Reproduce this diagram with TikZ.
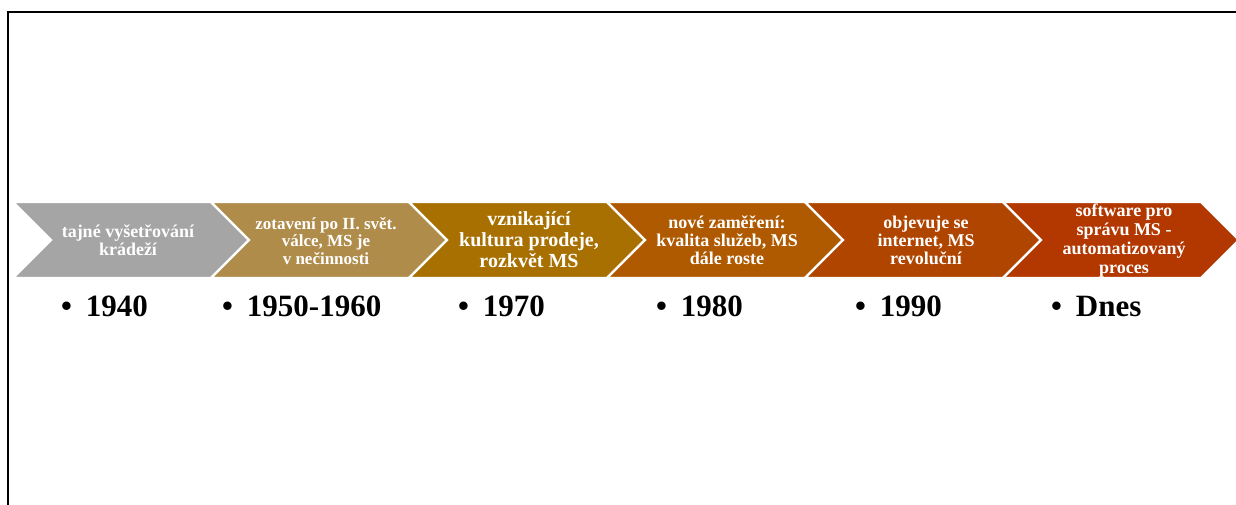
\documentclass[tikz,border=0pt]{standalone}
\usepackage{fontspec}
\setmainfont{Liberation Serif}
\usetikzlibrary{positioning}

\definecolor{stage1}{HTML}{A5A5A5}
\definecolor{stage2}{HTML}{B08C4B}
\definecolor{stage3}{HTML}{A87000}
\definecolor{stage4}{HTML}{AF5A00}
\definecolor{stage5}{HTML}{B04500}
\definecolor{stage6}{HTML}{B33800}

\begin{document}
\begin{tikzpicture}[
    x=1pt, y=-1pt,
    frame_style/.style={draw=black, line width=1.4pt},
    chev_style/.style={draw=white, line width=2.2pt, line join=miter},
    chev_text/.style={text=white, align=center, inner sep=0pt, font=\bfseries\fontsize{18}{18}\selectfont},
    year_style/.style={anchor=base west, inner sep=0pt, font=\bfseries\fontsize{31}{31}\selectfont}
]
\useasboundingbox (0,0) rectangle (1236,505);

% Frame (only top and left edge visible)
\draw[frame_style] (1236,12) -- (8,12) -- (8,505);

% Chevrons of the timeline
\filldraw[chev_style, fill=stage1] (13,202) -- ++(198,0) -- ++(38,38) -- ++(-38,38) -- ++(-198,0) -- ++(38,-38) -- cycle;
\filldraw[chev_style, fill=stage2] (211,202) -- ++(198,0) -- ++(38,38) -- ++(-38,38) -- ++(-198,0) -- ++(38,-38) -- cycle;
\filldraw[chev_style, fill=stage3] (409,202) -- ++(198,0) -- ++(38,38) -- ++(-38,38) -- ++(-198,0) -- ++(38,-38) -- cycle;
\filldraw[chev_style, fill=stage4] (607,202) -- ++(198,0) -- ++(38,38) -- ++(-38,38) -- ++(-198,0) -- ++(38,-38) -- cycle;
\filldraw[chev_style, fill=stage5] (805,202) -- ++(198,0) -- ++(38,38) -- ++(-38,38) -- ++(-198,0) -- ++(38,-38) -- cycle;
\filldraw[chev_style, fill=stage6] (1003,202) -- ++(198,0) -- ++(38,38) -- ++(-38,38) -- ++(-198,0) -- ++(38,-38) -- cycle;

% Texts inside the chevrons
\node[chev_text] (t1) at (128,240) {tajné vyšetřování\\krádeží};
\node[chev_text, font=\bfseries\fontsize{17}{17.5}\selectfont] (t2) at (326,241) {zotavení po II. svět.\\válce, MS je\\v nečinnosti};
\node[chev_text, font=\bfseries\fontsize{20}{21}\selectfont] (t3) at (529,240) {vznikající\\kultura prodeje,\\rozkvět MS};
\node[chev_text] (t4) at (727,240) {nové zaměření:\\kvalita služeb, MS\\dále roste};
\node[chev_text] (t5) at (926,240) {objevuje se\\internet, MS\\revoluční};
\node[chev_text, font=\bfseries\fontsize{18}{19}\selectfont] (t6) at (1124,241) {software pro\\správu MS -\\automatizovaný\\proces};

% Years below
\node[year_style] (y1) at (61,316) {•\hspace{0.45em}1940};
\node[year_style] (y2) at (222,316) {•\hspace{0.45em}1950-1960};
\node[year_style] (y3) at (458,316) {•\hspace{0.45em}1970};
\node[year_style] (y4) at (656,316) {•\hspace{0.45em}1980};
\node[year_style] (y5) at (855,316) {•\hspace{0.45em}1990};
\node[year_style] (y6) at (1051,316) {•\hspace{0.45em}Dnes};

\end{tikzpicture}
\end{document}
